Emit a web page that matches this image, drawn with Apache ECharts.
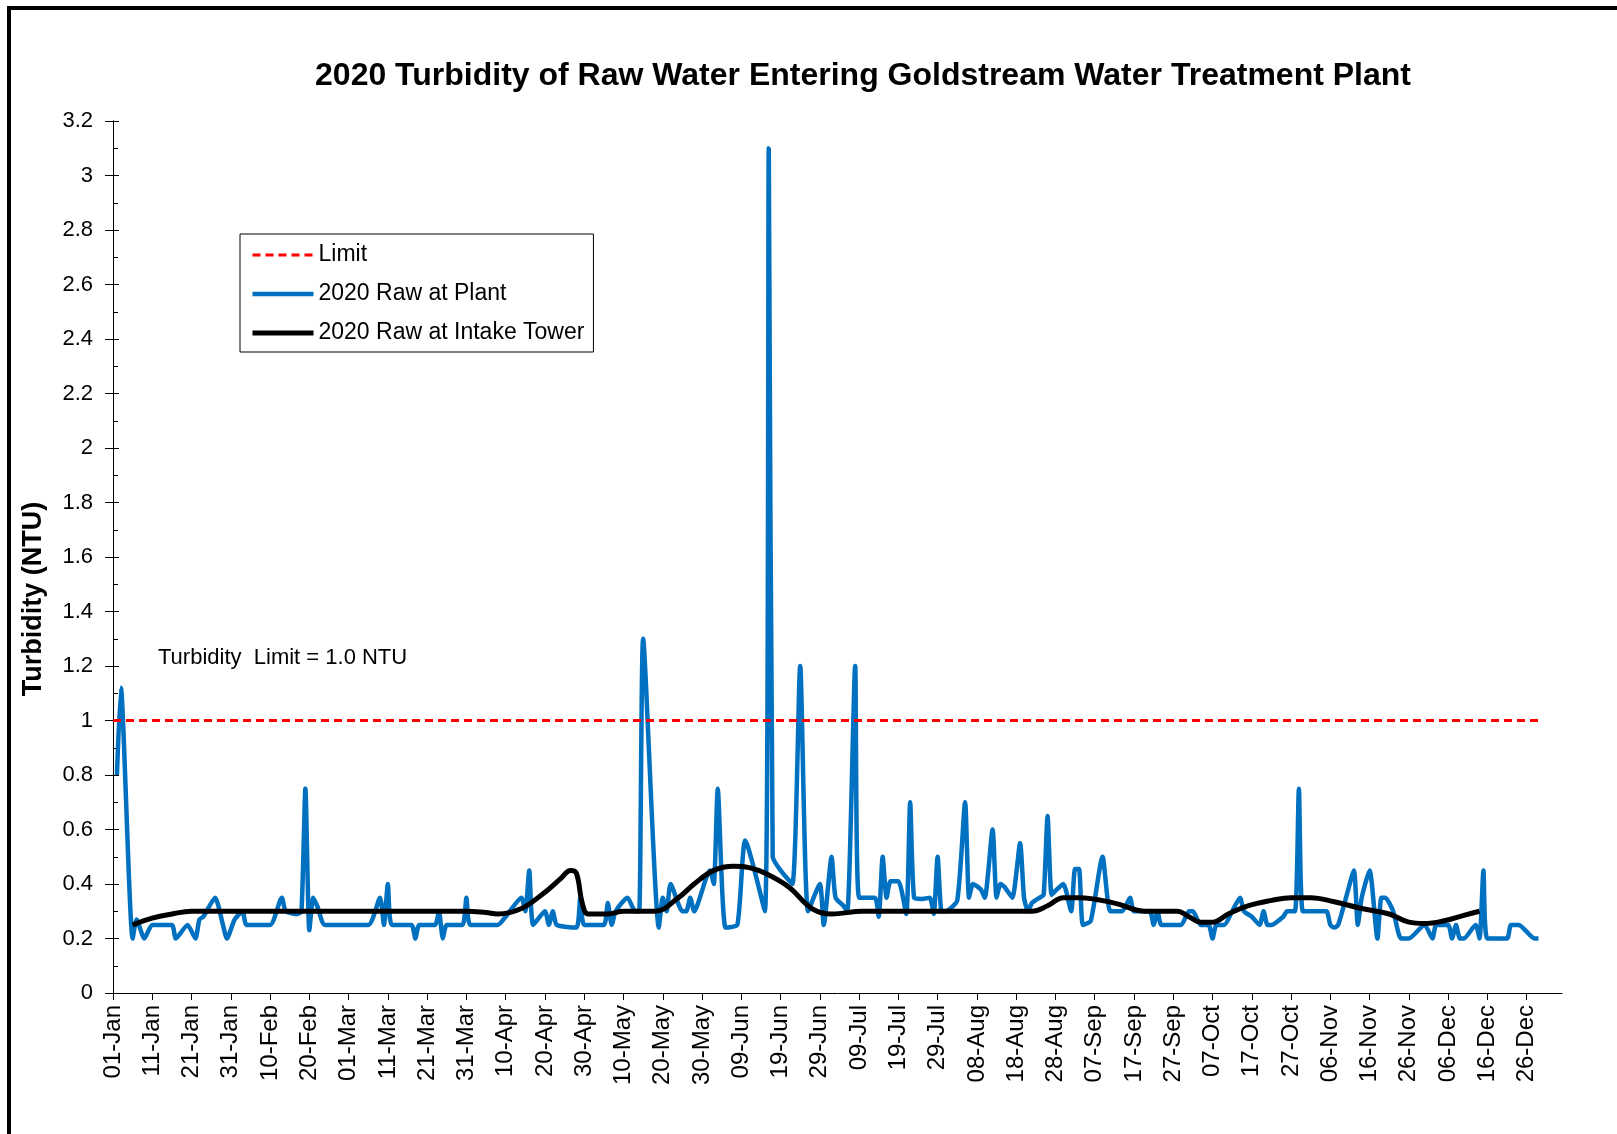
<!DOCTYPE html>
<html>
<head>
<meta charset="utf-8">
<script src="https://cdn.jsdelivr.net/npm/echarts@6/dist/echarts.min.js"></script>
<style>
  html, body { margin: 0; padding: 0; background: #fff; }
  #chart { width: 1617px; height: 1134px; }
</style>
</head>
<body>
<div id="chart"></div>
<script>
// ---- Data (day of year 2020, 0 = 01-Jan) ----
const tickLabels = ['01-Jan','11-Jan','21-Jan','31-Jan','10-Feb','20-Feb','01-Mar','11-Mar','21-Mar','31-Mar',
  '10-Apr','20-Apr','30-Apr','10-May','20-May','30-May','09-Jun','19-Jun','29-Jun','09-Jul','19-Jul','29-Jul',
  '08-Aug','18-Aug','28-Aug','07-Sep','17-Sep','27-Sep','07-Oct','17-Oct','27-Oct','06-Nov','16-Nov','26-Nov',
  '06-Dec','16-Dec','26-Dec'];

const plantDay = [1,2,5,6,8,10,15,16,19,21,22,23,26,28,29,31,33,34,40,43,44,47,48,49,50,51,52,54,65,68,69,70,71,76,77,78,
  82,83,84,85,89,90,91,98,100,104,105,106,107,110,111,112,113,118,119,120,125,126,127,128,131,133,134,135,139,140,141,142,
  145,146,147,148,152,153,154,156,159,161,166,167,168,170,173,175,177,180,181,183,184,186,187,189,190,194,195,196,197,198,
  200,202,203,204,206,208,209,210,211,212,215,217,218,219,221,222,224,225,226,227,229,231,232,233,234,236,237,238,239,240,
  242,244,245,246,247,249,252,254,257,259,260,264,265,266,267,272,274,275,277,279,280,281,283,285,287,288,290,292,293,294,
  295,298,299,301,302,303,306,309,310,311,312,314,316,317,318,320,322,323,324,326,328,330,334,336,337,340,341,342,343,344,
  347,348,349,350,355,356,358,362,363];
const plantNTU = [0.80,1.12,0.20,0.27,0.20,0.25,0.25,0.20,0.25,0.20,0.27,0.28,0.35,0.25,0.20,0.27,0.30,0.25,0.25,0.35,0.30,0.29,0.30,0.75,0.23,0.35,0.32,0.25,0.25,0.35,0.25,0.40,0.25,0.25,0.20,0.25,
  0.25,0.30,0.20,0.25,0.25,0.35,0.25,0.25,0.28,0.35,0.30,0.45,0.25,0.30,0.25,0.30,0.25,0.24,0.35,0.25,0.25,0.33,0.25,0.30,0.35,0.30,0.30,1.30,0.24,0.35,0.30,0.40,
  0.30,0.30,0.35,0.30,0.45,0.40,0.75,0.24,0.25,0.56,0.30,3.10,0.50,0.45,0.40,1.20,0.30,0.40,0.25,0.50,0.35,0.32,0.30,1.20,0.35,0.35,0.28,0.50,0.35,0.41,
  0.41,0.29,0.70,0.35,0.345,0.35,0.29,0.50,0.30,0.30,0.34,0.70,0.35,0.40,0.38,0.35,0.60,0.35,0.40,0.39,0.35,0.55,0.35,0.30,0.33,0.35,0.36,0.65,0.36,0.375,
  0.40,0.30,0.455,0.455,0.25,0.265,0.50,0.30,0.30,0.35,0.30,0.30,0.25,0.30,0.25,0.25,0.30,0.30,0.25,0.25,0.20,0.25,0.25,0.30,0.35,0.30,0.28,0.25,0.30,0.25,
  0.25,0.28,0.30,0.30,0.75,0.30,0.30,0.30,0.25,0.24,0.25,0.35,0.45,0.25,0.35,0.45,0.20,0.35,0.35,0.30,0.20,0.20,0.25,0.20,0.25,0.25,0.20,0.25,0.20,0.20,
  0.25,0.20,0.45,0.20,0.20,0.25,0.25,0.20,0.20];

const towerDay = [5,10,15,20,40,60,80,90,95,98,104,110,114,116.5,118,119.5,121,126,130,138,144,148,153,158,162,166,172,178,183,
  191,210,234,238,242,246,255,263,271,274,277,280,284,289,295,300,305,311,318,325,330,334,339,344,348];
const towerNTU = [0.25,0.275,0.29,0.30,0.30,0.30,0.30,0.30,0.295,0.29,0.31,0.37,0.42,0.45,0.44,0.33,0.29,0.29,0.30,0.30,0.35,0.40,0.45,0.465,0.46,0.44,0.39,0.31,0.29,
  0.30,0.30,0.30,0.32,0.35,0.35,0.33,0.30,0.30,0.28,0.26,0.26,0.29,0.32,0.34,0.35,0.35,0.335,0.31,0.29,0.26,0.255,0.265,0.285,0.30];

const limitDay = [0, 363];
const limitNTU = [1.0, 1.0];

const pairs = (xs, ys) => xs.map((x, i) => [x, ys[i]]);
const tickDays = tickLabels.map((_, i) => i * 10);

const FONT = '"Liberation Sans", Arial, sans-serif';

const chart = echarts.init(document.getElementById('chart'));
chart.setOption({
  animation: false,
  backgroundColor: '#ffffff',
  title: {
    text: '2020 Turbidity of Raw Water Entering Goldstream Water Treatment Plant',
    left: 858, top: 55, textAlign: 'center',
    textStyle: { fontFamily: FONT, fontSize: 32, fontWeight: 'bold', color: '#000' }
  },
  legend: {
    orient: 'vertical',
    left: 240, top: 234,
    padding: [9, 9, 7, 10],
    itemWidth: 61, itemHeight: 14, itemGap: 15,
    borderColor: '#000', borderWidth: 1,
    itemStyle: { opacity: 0 },
    lineStyle: { width: 'inherit' },
    textStyle: { fontFamily: FONT, fontSize: 23, color: '#000', lineHeight: 24 },
    data: ['Limit', '2020 Raw at Plant', '2020 Raw at Intake Tower']
  },
  grid: { left: 113, right: 55, top: 121, bottom: 141, containLabel: false },
  xAxis: {
    type: 'value', min: 0, max: 369, interval: 10,
    splitLine: { show: false },
    axisLine: { lineStyle: { color: '#000', width: 1 } },
    axisTick: { show: true, length: 7, customValues: tickDays, lineStyle: { color: '#000' } },
    axisLabel: {
      customValues: tickDays,
      rotate: 90, margin: 12,
      fontFamily: FONT, fontSize: 24, color: '#000',
      formatter: v => tickLabels[Math.round(v / 10)] || ''
    }
  },
  yAxis: [{
    type: 'value', min: 0, max: 3.2, interval: 0.2, position: 'left',
    splitLine: { show: false },
    axisLine: { show: true, lineStyle: { color: '#000', width: 1 } },
    axisTick: { show: true, inside: true, length: 6, lineStyle: { color: '#000' } },
    minorTick: { show: true, splitNumber: 2, length: 5, lineStyle: { color: '#000' } },
    axisLabel: { margin: 20, fontFamily: FONT, fontSize: 22, color: '#000' }
  }, {
    type: 'value', min: 0, max: 3.2, interval: 0.2, position: 'left', offset: 0,
    splitLine: { show: false },
    axisLine: { show: true, lineStyle: { color: '#000', width: 1 } },
    axisTick: { show: true, inside: false, length: 8, lineStyle: { color: '#000' } },
    axisLabel: { show: false }
  }],
  graphic: [
    { type: 'rect', shape: { x: 7, y: 6, width: 1610, height: 4 }, style: { fill: '#000' } },
    { type: 'rect', shape: { x: 7, y: 6, width: 4, height: 1128 }, style: { fill: '#000' } },
    { type: 'text', x: 34, y: 599, rotation: Math.PI / 2,
      style: { text: 'Turbidity (NTU)', font: 'bold 27px ' + FONT, fill: '#000', align: 'center', verticalAlign: 'middle' } },
    { type: 'text', x: 158, y: 658,
      style: { text: 'Turbidity  Limit = 1.0 NTU', font: '22px ' + FONT, fill: '#000', align: 'left', verticalAlign: 'middle' } }
  ],
  series: [{
    name: 'Limit', type: 'line', symbol: 'none', yAxisIndex: 0,
    data: pairs(limitDay, limitNTU),
    lineStyle: { color: '#ff0000', width: 3, type: [8, 5] },
    itemStyle: { color: '#ff0000' }, z: 3
  }, {
    name: '2020 Raw at Plant', type: 'line', symbol: 'none', yAxisIndex: 0,
    smooth: 0.2,
    data: pairs(plantDay, plantNTU),
    lineStyle: { color: '#0070c0', width: 4.5 },
    itemStyle: { color: '#0070c0' }, z: 2
  }, {
    name: '2020 Raw at Intake Tower', type: 'line', symbol: 'none', yAxisIndex: 0,
    smooth: 0.4,
    data: pairs(towerDay, towerNTU),
    lineStyle: { color: '#000000', width: 5 },
    itemStyle: { color: '#000000' }, z: 4
  }]
});
</script>
</body>
</html>
